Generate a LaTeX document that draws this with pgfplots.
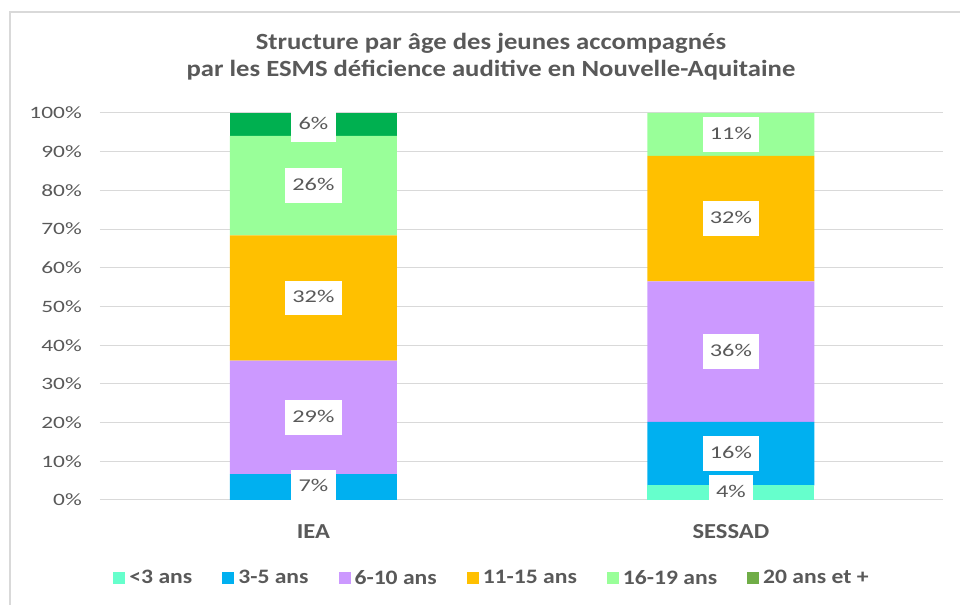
\documentclass[border=0pt]{standalone}
\usepackage{fontspec}
\setmainfont{Carlito}[FakeStretch=1.15]
\newfontfamily\numfont{Carlito}[FakeStretch=1.35]
\usepackage{pgfplots}
\usepackage{pgfplotstable}
\pgfplotsset{compat=1.18}

\definecolor{cA}{HTML}{66FFCC}
\definecolor{cB}{HTML}{00B0F0}
\definecolor{cC}{HTML}{CC99FF}
\definecolor{cD}{HTML}{FFC000}
\definecolor{cE}{HTML}{99FF99}
\definecolor{cF}{HTML}{00B050}
\definecolor{cFleg}{HTML}{70AD47}
\definecolor{txt}{HTML}{595959}
\definecolor{gridc}{HTML}{D9D9D9}

\pgfplotstableread{
x  a    b    c    d    e    f
0  0    6.7  29.3 32.4 25.7 5.9
1  3.8  16.4 36.3 32.4 11.1 0
}\data

\pgfplotstableread{
x y lab
0 3.35 7
0 21.35 29
0 52.2 32
0 81.25 26
0 97.05 6
1 1.9 4
1 12.0 16
1 38.35 36
1 72.7 32
1 94.45 11
}\labels

\newcommand{\legsq}[1]{\fill[#1] (0pt,-4.5pt) rectangle (9pt,4.5pt);}

\begin{document}
\begin{tikzpicture}
\path[use as bounding box] (-75pt,-78.75pt) rectangle (645pt,375pt);
\draw[gridc, line width=1.5pt] (-67.5pt,-78.75pt) -- (-67.5pt,366pt) -- (645pt,366pt);
\node[anchor=base, text=txt, font=\bfseries\fontsize{17.4}{21}\selectfont] at (293.25pt,337.5pt) {Structure par âge des jeunes accompagnés};
\node[anchor=base, text=txt, font=\bfseries\fontsize{17.4}{21}\selectfont] at (293.25pt,317.25pt) {par les ESMS déficience auditive en Nouvelle-Aquitaine};
\begin{axis}[
  at={(0pt,0pt)}, anchor=south west,
  scale only axis, width=632.25pt, height=290.25pt,
  ybar stacked, bar width=125.25pt,
  xmin=-0.511, xmax=1.508, ymin=0, ymax=100,
  xtick={0,1}, xticklabels={IEA,SESSAD},
  xticklabel style={font=\bfseries\fontsize{16}{19}\selectfont, text=txt, anchor=north, inner sep=0pt, yshift=-18pt},
  ytick={0,10,...,100},
  yticklabels={0\%,10\%,20\%,30\%,40\%,50\%,60\%,70\%,80\%,90\%,100\%},
  yticklabel style={font=\numfont\fontsize{13}{15}\selectfont, text=txt, anchor=east, inner sep=0pt, xshift=-13.5pt},
  ymajorgrids, grid style={gridc, line width=0.75pt},
  axis line style={draw=none}, major tick length=0pt,
  legend columns=6,
  legend style={at={(0.4662,-0.2016)}, anchor=center, draw=none, fill=none,
    font=\bfseries\fontsize{15.4}{18}\selectfont, text=txt,
    /tikz/every even column/.append style={column sep=19.5pt},
    nodes={inner xsep=3pt}},
  legend cell align=left,
]
\addplot[fill=cA, draw=none, legend image code/.code={\legsq{cA}}] table[x=x,y=a] {\data};
\addplot[fill=cB, draw=none, legend image code/.code={\legsq{cB}}] table[x=x,y=b] {\data};
\addplot[fill=cC, draw=none, legend image code/.code={\legsq{cC}}] table[x=x,y=c] {\data};
\addplot[fill=cD, draw=none, legend image code/.code={\legsq{cD}}] table[x=x,y=d] {\data};
\addplot[fill=cE, draw=none, legend image code/.code={\legsq{cE}}] table[x=x,y=e] {\data};
\addplot[fill=cF, draw=none, legend image code/.code={\legsq{cFleg}}] table[x=x,y=f] {\data};
\legend{<3 ans,3-5 ans,6-10 ans,11-15 ans,16-19 ans,20 ans et +}
\end{axis}
\begin{axis}[
  at={(0pt,0pt)}, anchor=south west,
  scale only axis, width=632.25pt, height=290.25pt,
  xmin=-0.511, xmax=1.508, ymin=0, ymax=100,
  hide axis,
]
\addplot[draw=none, mark=none, nodes near coords={\pgfplotspointmeta\%},
  point meta=explicit symbolic,
  every node near coord/.style={anchor=center, fill=white, text=txt,
    font=\numfont\fontsize{13.5}{15}\selectfont, inner xsep=5.5pt, inner ysep=7.5pt,
    text height=9pt, text depth=2pt}]
  table[x=x,y=y,meta=lab] {\labels};
\end{axis}
\end{tikzpicture}
\end{document}
